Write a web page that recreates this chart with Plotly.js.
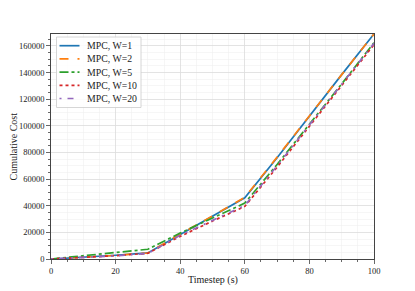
<!DOCTYPE html>
<html><head><meta charset="utf-8">
<script src="https://cdn.plot.ly/plotly-3.0.1.min.js"></script>
<style>html,body{margin:0;padding:0;background:#fff}#c{width:415px;height:291px}</style>
</head><body><div id="c"></div>
<script>
const timesteps = [0, 10, 20, 30, 40, 50, 60, 70, 80, 90, 100];
const costW1  = [0, 1300, 2800, 4600, 18500, 32000, 46000, 76000, 107500, 138500, 169000];
const costW2  = [0, 1200, 2700, 4500, 18800, 32300, 46300, 76500, 107800, 138500, 169000];
const costW5  = [0, 2500, 4900, 7300, 19500, 30500, 42000, 71000, 101000, 131500, 162500];
const costW10 = [0, 1100, 2500, 4300, 17000, 28500, 39500, 69000, 99500, 130000, 161000];
const costW20 = [0, 1000, 2400, 4200, 17800, 29000, 40200, 70000, 100500, 131000, 162000];
const seriesNames = ["MPC, W=1", "MPC, W=2", "MPC, W=5", "MPC, W=10", "MPC, W=20"];
const seriesData = [costW1, costW2, costW5, costW10, costW20];
const colors = ["#1f77b4", "#ff7f0e", "#2ca02c", "#d62728", "#9467bd"];
const dashes = ["solid", "dash", "dashdot", "dot", "2px,6px,6px,6px"];
const xTitle = "Timestep (s)";
const yTitle = "Cumulative Cost";

const font = "Liberation Serif, DejaVu Serif, serif";
const traces = seriesData.map((y, i) => ({
  x: timesteps, y: y, type: "scatter", mode: "lines", name: seriesNames[i],
  line: {color: colors[i], width: 1.7, dash: dashes[i]}, showlegend: false
}));

// plot area geometry (pixels) for the hand-built compact legend and titles
const M = {l: 51, r: 41, t: 34, b: 32};
const PW = 415 - M.l - M.r, PH = 291 - M.t - M.b;
const px = v => (v - M.l) / PW;
const py = v => (291 - M.b - v) / PH;

const shapes = [{
  type: "rect", xref: "paper", yref: "paper",
  x0: px(56.5), x1: px(141), y0: py(37), y1: py(107.5),
  fillcolor: "rgba(255,255,255,0.85)", line: {color: "#cccccc", width: 0.8}, layer: "above"
}];
const annotations = [];
seriesNames.forEach((n, i) => {
  const yc = 45.7 + i * 13.2;
  shapes.push({type: "line", xref: "paper", yref: "paper",
    x0: px(59.5), x1: px(79.5), y0: py(yc), y1: py(yc),
    line: {color: colors[i], width: 1.7, dash: dashes[i]}, layer: "above"});
  annotations.push({xref: "paper", yref: "paper", x: px(85), y: py(yc),
    xanchor: "left", yanchor: "middle", showarrow: false, text: n,
    font: {family: font, size: 9.8, color: "#222"}});
});
annotations.push({xref: "paper", yref: "paper", x: 0.5, y: py(279.5),
  xanchor: "center", yanchor: "middle", showarrow: false, text: xTitle,
  font: {family: font, size: 10, color: "#222"}});
annotations.push({xref: "paper", yref: "paper", x: px(13), y: 0.5, textangle: -90,
  xanchor: "center", yanchor: "middle", showarrow: false, text: yTitle,
  font: {family: font, size: 10, color: "#222"}});

const axisCommon = {
  showline: true, mirror: true, linecolor: "#444", linewidth: 1.2,
  ticks: "outside", ticklen: 3.5, tickcolor: "#444", tickwidth: 0.8,
  gridcolor: "#dcdcdc", gridwidth: 0.8, zeroline: false,
  tickfont: {family: font, size: 8.5, color: "#222"},
  minor: {showgrid: true, gridcolor: "#f0f0f0", gridwidth: 0.6, ticks: "outside", ticklen: 2, tickcolor: "#444"}
};

const layout = {
  width: 415, height: 291,
  margin: M,
  paper_bgcolor: "#fff", plot_bgcolor: "#fff",
  font: {family: font, color: "#222"},
  showlegend: false,
  shapes: shapes, annotations: annotations,
  xaxis: Object.assign({}, axisCommon, {
    range: [0, 100], dtick: 20, tick0: 0,
    minor: Object.assign({}, axisCommon.minor, {dtick: 5})
  }),
  yaxis: Object.assign({}, axisCommon, {
    range: [0, 169000], dtick: 20000, tick0: 0, tickformat: "d",
    minor: Object.assign({}, axisCommon.minor, {dtick: 5000})
  })
};

Plotly.newPlot("c", traces, layout, {displayModeBar: false, staticPlot: true});
</script></body></html>
